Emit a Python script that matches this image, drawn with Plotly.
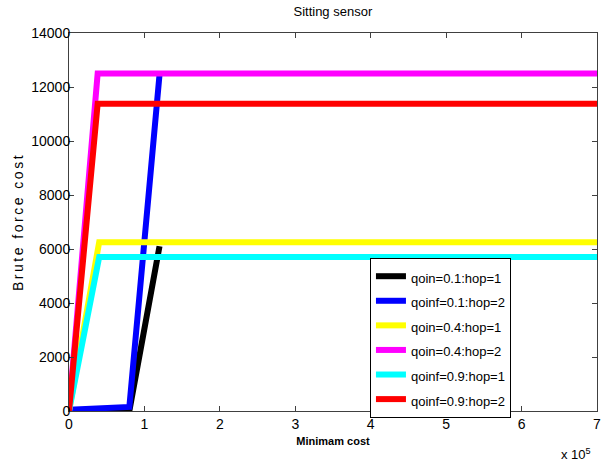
import plotly.graph_objects as go

names = ["qoin=0.1:hop=1", "qoinf=0.1:hop=2", "qoin=0.4:hop=1",
         "qoin=0.4:hop=2", "qoinf=0.9:hop=1", "qoinf=0.9:hop=2"]
colors = ["#000000", "#0000ff", "#ffff00", "#ff00ff", "#00ffff", "#ff0000"]

x_black = [0, 80000, 120000]
y_black = [0, 0, 6100]
x_blue = [0, 80000, 120000]
y_blue = [50, 150, 12450]
x_yellow = [0, 40000, 700000]
y_yellow = [0, 6250, 6250]
x_magenta = [0, 38000, 700000]
y_magenta = [0, 12500, 12500]
x_cyan = [0, 40000, 700000]
y_cyan = [0, 5700, 5700]
x_red = [0, 38000, 700000]
y_red = [0, 11380, 11380]

xs = [x_black, x_blue, x_yellow, x_magenta, x_cyan, x_red]
ys = [y_black, y_blue, y_yellow, y_magenta, y_cyan, y_red]

x_tickvals = [0, 100000, 200000, 300000, 400000, 500000, 600000, 700000]
x_ticktext = ["0", "1", "2", "3", "4", "5", "6", "7"]
y_tickvals = [0, 2000, 4000, 6000, 8000, 10000, 12000, 14000]
y_ticktext = ["0", "2000", "4000", "6000", "8000", "10000", "12000", "14000"]

font = "Liberation Sans, Arial, sans-serif"

fig = go.Figure()
for x, y, n, c in zip(xs, ys, names, colors):
    fig.add_trace(go.Scatter(x=x, y=y, mode="lines",
                             name='<span style="font-size:13px">' + n + '</span>',
                             line=dict(color=c, width=6)))

axis_common = dict(showline=True, linecolor="#404040", linewidth=1, mirror="ticks",
                   ticks="inside", ticklen=5, tickcolor="#404040", showgrid=False,
                   zeroline=False, automargin=False,
                   tickfont=dict(family=font, size=14, color="black"))

fig.update_layout(
    width=603, height=465,
    margin=dict(l=69, r=6, t=33, b=54),
    plot_bgcolor="white", paper_bgcolor="white",
    title=dict(text="Sitting sensor", x=0.552, xanchor="center", y=0.975, yanchor="middle",
               font=dict(family=font, size=13, color="black")),
    xaxis=dict(range=[-0.5, 700000.5], tickvals=x_tickvals, ticktext=x_ticktext,
               title=dict(text="<b>Minimam cost</b>", standoff=6,
                          font=dict(family=font, size=11, color="black")),
               **axis_common),
    yaxis=dict(range=[0, 14000], tickvals=y_tickvals, ticktext=y_ticktext,
               ticklabelstandoff=-5,
               title=dict(text='<span style="letter-spacing:2.5px">Brute force cost</span>',
                          standoff=4,
                          font=dict(family=font, size=14, color="black")),
               **axis_common),
    legend=dict(x=0.57, y=0.405, xanchor="left", yanchor="top",
                bgcolor="white", bordercolor="black", borderwidth=1,
                font=dict(family=font, size=16.6, color="black"),
                itemwidth=30, tracegroupgap=0),
    showlegend=True,
)
fig.add_annotation(text="x 10<sup>5</sup>", xref="paper", yref="paper", x=0.992, y=-0.087,
                   xanchor="right", yanchor="top", showarrow=False,
                   font=dict(family=font, size=13, color="black"))

fig.write_html("out.html", config={"displayModeBar": False},
               post_script="document.body.style.margin='0px';")
